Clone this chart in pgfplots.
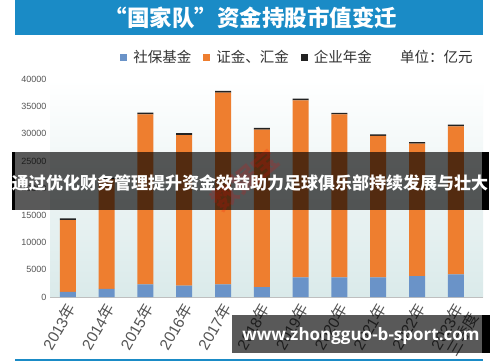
\documentclass[border=0pt]{standalone}
\usepackage{fontspec}
\setmainfont{Liberation Sans}
\newfontfamily\cjk{Noto Sans CJK SC}
\newfontfamily\wm{Open Sans}
\usepackage{pgfplots}
\pgfplotsset{compat=1.18}
\definecolor{sbblue}{HTML}{6A93C8}
\definecolor{zjorange}{HTML}{EE7E2F}
\definecolor{qyblack}{HTML}{222222}
\definecolor{titleblue}{HTML}{1A8BC6}
\definecolor{bgcol}{HTML}{DAEAEA}
\definecolor{labgray}{HTML}{555555}
\begin{document}
\begin{tikzpicture}[x=1pt,y=1pt]
\useasboundingbox (0,0) rectangle (500,362);
\fill[white] (0,0) rectangle (500,362);
\fill[titleblue] (15,327) rectangle (483,362);
\node[white] at (251,344) {\cjk\bfseries\fontsize{22.5}{22.5}\selectfont “国家队”资金持股市值变迁};
\node[anchor=west, text=black!80, inner sep=0] at (400,305) {\cjk\fontsize{14.5}{14.5}\selectfont 单位：亿元};
\begin{axis}[
  at={(50pt,65pt)}, anchor=south west,
  scale only axis, width=433pt, height=217.7pt,
  ybar stacked, bar width=16pt,
  xmin=-0.46, xmax=10.7, ymin=0, ymax=40000,
  axis x line*=bottom, axis y line*=left,
  x axis line style={draw=gray!50, line width=0.8pt},
  y axis line style={draw=none},
  major tick length=0pt,
  axis background/.style={top color=white, bottom color=bgcol},
  ytick={0,5000,...,40000},
  scaled y ticks=false,
  /pgf/number format/assume math mode=true,
  /pgf/number format/1000 sep={},
  yticklabel style={font=\fontsize{9}{9}\selectfont, text=labgray},
  xtick={0,...,10},
  xticklabels={2013{\cjk 年},2014{\cjk 年},2015{\cjk 年},2016{\cjk 年},2017{\cjk 年},2018{\cjk 年},2019{\cjk 年},2020{\cjk 年},2021{\cjk 年},2022{\cjk 年},{\begin{tabular}[t]{@{}r@{}}2023{\cjk 年}\\{\cjk 三季度}\end{tabular}}},
  xticklabel style={xshift=9pt, yshift=-11pt, rotate=60, anchor=base east, inner sep=0pt, font=\fontsize{15.5}{14}\selectfont, text=labgray},
  legend style={draw=none, fill=none, legend columns=3, at={(axis description cs:0.155,1.102)}, anchor=west,
    font=\cjk\fontsize{14.5}{14.5}\selectfont, text=black!80,
    /tikz/every odd column/.append style={column sep=4pt},
    /tikz/every even column/.append style={column sep=10pt}},
  legend cell align=left,
]
\addplot[fill=sbblue, draw=none, legend image code/.code={\fill[sbblue] (0pt,-3.5pt) rectangle (7pt,3.5pt);}]
  coordinates {(0,950) (1,1500) (2,2300) (3,2100) (4,2300) (5,1800) (6,3600) (7,3600) (8,3600) (9,3850) (10,4150)};
\addlegendentry{社保基金}
\addplot[fill=zjorange, draw=none, legend image code/.code={\fill[zjorange] (0pt,-3.5pt) rectangle (7pt,3.5pt);}]
  coordinates {(0,13190) (1,20150) (2,31240) (3,27640) (4,35260) (5,28970) (6,32550) (7,29970) (8,26000) (9,24340) (10,27190)};
\addlegendentry{证金、汇金}
\addplot[fill=qyblack, draw=none, legend image code/.code={\fill[qyblack] (0pt,-3.5pt) rectangle (7pt,3.5pt);}]
  coordinates {(0,300) (1,300) (2,350) (3,350) (4,300) (5,300) (6,300) (7,250) (8,300) (9,250) (10,350)};
\addlegendentry{企业年金}
\end{axis}
\draw[titleblue, line width=1.5pt] (15,2) -- (483,2);
% overlay band
\fill[black] (12,152) rectangle (15,210);
\fill[black, opacity=0.65] (15,152) rectangle (482,210);
\fill[black] (482,152) rectangle (489,210);
\node[text=red, opacity=0.18, rotate=40] at (245,182) {\cjk\bfseries\fontsize{26}{26}\selectfont 数据宝};
\node[white] at (250,179) {\cjk\bfseries\fontsize{17}{17}\selectfont 通过优化财务管理提升资金效益助力足球俱乐部持续发展与壮大};
% watermark box
\fill[black, opacity=0.65] (232,9) rectangle (482,47);
\fill[black] (482,9) rectangle (490,47);
\node[white] at (361,26) {\wm\bfseries\fontsize{17}{17}\selectfont www.zhongguo-b-sport.com};
\end{tikzpicture}
\end{document}
